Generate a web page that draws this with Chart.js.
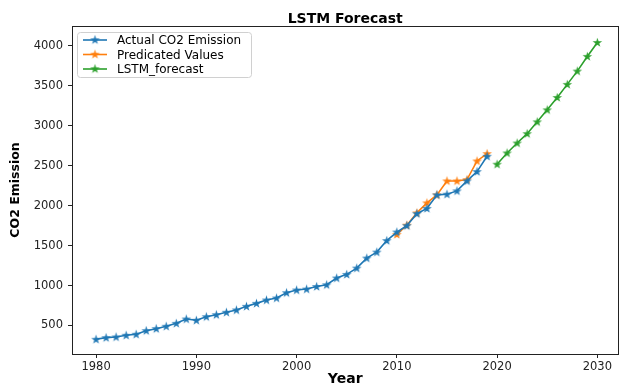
<!DOCTYPE html>
<html>
<head>
<meta charset="utf-8">
<script src="https://cdn.jsdelivr.net/npm/chart.js@4.4.1/dist/chart.umd.min.js"></script>
<style>
  html, body { margin: 0; padding: 0; background: #fff; }
  #wrap { width: 625px; height: 386px; }
</style>
</head>
<body>
<div id="wrap"><canvas id="lstmChart" width="625" height="386"></canvas></div>
<script>
// values
const actualYears = [1980, 1981, 1982, 1983, 1984, 1985, 1986, 1987, 1988, 1989,
  1990, 1991, 1992, 1993, 1994, 1995, 1996, 1997, 1998, 1999,
  2000, 2001, 2002, 2003, 2004, 2005, 2006, 2007, 2008, 2009,
  2010, 2011, 2012, 2013, 2014, 2015, 2016, 2017, 2018, 2019];
const actualValues = [327, 348, 356, 377, 390, 435, 460, 490, 527, 581,
  565, 610, 635, 665, 694, 740, 777, 819, 844, 910,
  944, 956, 988, 1010, 1094, 1140, 1219, 1344, 1419, 1563,
  1670, 1750, 1900, 1965, 2135, 2144, 2185, 2310, 2427, 2619];

const predYears = [2010, 2011, 2012, 2013, 2014, 2015, 2016, 2017, 2018, 2019];
const predValues = [1640, 1756, 1910, 2035, 2135, 2310, 2310, 2327, 2560, 2652];

const forecastYears = [2020, 2021, 2022, 2023, 2024, 2025, 2026, 2027, 2028, 2029, 2030];
const forecastValues = [2519, 2660, 2785, 2902, 3050, 3200, 3355, 3519, 3685, 3869, 4044];

const xTicks = [1980, 1990, 2000, 2010, 2020, 2030];
const yTicks = [500, 1000, 1500, 2000, 2500, 3000, 3500, 4000];

const FONT = '"DejaVu Sans", sans-serif';

// filled 5-point star like matplotlib's '*' marker
function starImage(color) {
  const c = document.createElement("canvas");
  c.width = 11;
  c.height = 11;
  const g = c.getContext("2d");
  const cx = 5.5, cy = 5.8, R = 5, r = 5 * 0.382;
  g.beginPath();
  for (let i = 0; i < 10; i++) {
    const rad = i % 2 === 0 ? R : r;
    const ang = -Math.PI / 2 + i * Math.PI / 5;
    const px = cx + rad * Math.cos(ang);
    const py = cy + rad * Math.sin(ang);
    if (i === 0) g.moveTo(px, py); else g.lineTo(px, py);
  }
  g.closePath();
  g.fillStyle = color;
  g.fill();
  return c;
}

function toPoints(xs, ys) {
  return xs.map((x, i) => ({ x: x, y: ys[i] }));
}

const colors = ["#1f77b4", "#ff7f0e", "#2ca02c"];
const stars = colors.map(starImage);

function series(label, xs, ys, i) {
  return {
    label: label,
    data: toPoints(xs, ys),
    borderColor: colors[i],
    backgroundColor: colors[i],
    borderWidth: 1.6,
    pointStyle: stars[i],
    pointRadius: 5,
    tension: 0,
  };
}

// frame, title and matplotlib-like legend
const decor = {
  id: "decor",
  afterDraw(chart) {
    const ctx = chart.ctx;
    const a = chart.chartArea;
    ctx.save();
    ctx.strokeStyle = "#222";
    ctx.lineWidth = 1;
    ctx.strokeRect(Math.round(a.left) + 0.5, Math.round(a.top) + 0.5,
      Math.round(a.right - a.left), Math.round(a.bottom - a.top));

    ctx.fillStyle = "#000";
    ctx.font = "bold 14px " + FONT;
    ctx.textAlign = "center";
    ctx.textBaseline = "alphabetic";
    ctx.fillText("LSTM Forecast", (a.left + a.right) / 2, a.top - 3);

    // legend box
    const bx = a.left + 5, by = a.top + 6, bw = 174, bh = 45;
    ctx.fillStyle = "rgba(255,255,255,0.85)";
    ctx.strokeStyle = "#d0d0d0";
    ctx.beginPath();
    ctx.roundRect(bx + 0.5, by + 0.5, bw, bh, 3);
    ctx.fill();
    ctx.stroke();
    ctx.font = "12px " + FONT;
    ctx.textAlign = "left";
    ctx.textBaseline = "middle";
    chart.data.datasets.forEach((ds, i) => {
      const y = by + 8 + i * 14.5;
      ctx.strokeStyle = ds.borderColor;
      ctx.lineWidth = 1.6;
      ctx.beginPath();
      ctx.moveTo(bx + 6, y);
      ctx.lineTo(bx + 30, y);
      ctx.stroke();
      ctx.drawImage(stars[i], bx + 18 - 5.5, y - 5.8);
      ctx.fillStyle = "#000";
      ctx.fillText(ds.label, bx + 40, y + 1);
    });
    ctx.restore();
  },
};

new Chart(document.getElementById("lstmChart"), {
  type: "line",
  data: {
    datasets: [
      series("Actual CO2 Emission", actualYears, actualValues, 0),
      series("Predicated Values", predYears, predValues, 1),
      series("LSTM_forecast", forecastYears, forecastValues, 2),
    ],
  },
  options: {
    responsive: false,
    animation: false,
    layout: { padding: { top: 26, right: 3, left: 0, bottom: 0 } },
    plugins: {
      legend: { display: false },
      title: { display: false },
      tooltip: { enabled: false },
    },
    scales: {
      x: {
        type: "linear",
        min: 1977.6,
        max: 2032.1,
        afterBuildTicks: (scale) => { scale.ticks = xTicks.map((v) => ({ value: v })); },
        afterFit: (scale) => { scale.height = 32; },
        grid: { drawOnChartArea: false, drawTicks: true, tickLength: 4, tickColor: "#222" },
        border: { display: false },
        ticks: {
          color: "#222",
          padding: 2,
          maxRotation: 0,
          font: { family: FONT, size: 11.5 },
          callback: (v) => String(v),
        },
        title: {
          display: true,
          text: "Year",
          color: "#000",
          font: { family: FONT, size: 14, weight: "bold", lineHeight: 1 },
          padding: { top: 0, bottom: 0 },
        },
      },
      y: {
        min: 143,
        max: 4250,
        afterBuildTicks: (scale) => { scale.ticks = yTicks.map((v) => ({ value: v })); },
        afterFit: (scale) => { scale.width = 72; },
        grid: { drawOnChartArea: false, drawTicks: true, tickLength: 4, tickColor: "#222" },
        border: { display: false },
        ticks: {
          color: "#222",
          padding: 5,
          font: { family: FONT, size: 11.5 },
          callback: (v) => String(v),
        },
        title: {
          display: true,
          text: "CO2 Emission",
          color: "#000",
          font: { family: FONT, size: 12.5, weight: "bold", lineHeight: 1 },
          padding: { top: 9, bottom: 0 },
        },
      },
    },
  },
  plugins: [decor],
});
</script>
</body>
</html>
